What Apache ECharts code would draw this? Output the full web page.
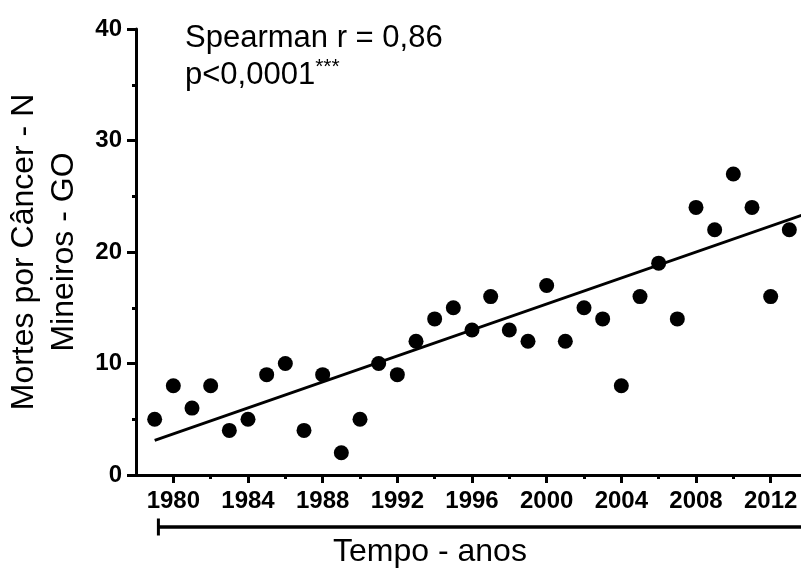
<!DOCTYPE html>
<html>
<head>
<meta charset="utf-8">
<script src="https://cdn.jsdelivr.net/npm/echarts@6/dist/echarts.min.js"></script>
<style>
  html, body { margin: 0; padding: 0; background: #fff; }
  #chart { width: 801px; height: 568px; }
</style>
</head>
<body>
<div id="chart"></div>
<script>
// anos e mortes
const years = [1979, 1980, 1981, 1982, 1983, 1984, 1985, 1986, 1987, 1988,
  1989, 1990, 1991, 1992, 1993, 1994, 1995, 1996, 1997, 1998,
  1999, 2000, 2001, 2002, 2003, 2004, 2005, 2006, 2007, 2008,
  2009, 2010, 2011, 2012, 2013]
const deaths = [5, 8, 6, 8, 4, 5, 9, 10, 4, 9,
  2, 5, 10, 9, 12, 14, 15, 13, 16, 13,
  12, 17, 12, 15, 14, 8, 16, 19, 14, 24,
  22, 27, 24, 16, 22]
const fitLine = [[1979, 3.1], [2014, 23.5]]
const periodBar = [[1979.2, 0], [2014, 0]]
const majorYears = [1980, 1984, 1988, 1992, 1996, 2000, 2004, 2008, 2012]
const minorYears = [1982, 1986, 1990, 1994, 1998, 2002, 2006, 2010]

const font = 'Liberation Sans, Arial, Helvetica, sans-serif'

const chart = echarts.init(document.getElementById('chart'), null, { renderer: 'canvas' })

chart.setOption({
  animation: false,
  backgroundColor: '#fff',
  title: [
    {
      text: 'Spearman r = 0,86\np<0,0001{sup|***}',
      left: 185,
      top: 20,
      padding: 0,
      textStyle: {
        fontFamily: font,
        fontSize: 31,
        fontWeight: 'normal',
        lineHeight: 37,
        color: '#000',
        rich: {
          sup: { fontFamily: font, fontSize: 21, verticalAlign: 'top', padding: [0, 0, 12, 0], color: '#000' }
        }
      }
    },
    {
      text: 'Tempo - anos',
      left: 333,
      top: 536,
      padding: 0,
      textStyle: { fontFamily: font, fontSize: 32, fontWeight: 'normal', color: '#000' }
    }
  ],
  grid: [
    { left: 136, right: -7, top: 29, bottom: 93, outerBoundsMode: 'none' },
    { left: 136, right: -7, top: 517, height: 20, outerBoundsMode: 'none' }
  ],
  xAxis: [
    {
      type: 'value',
      gridIndex: 0,
      min: 1978,
      max: 2014,
      interval: 2,
      splitLine: { show: false },
      axisLine: { onZero: false, lineStyle: { color: '#000', width: 3 } },
      axisTick: { customValues: majorYears, length: 8, lineStyle: { color: '#000', width: 3 } },
      axisLabel: {
        customValues: majorYears,
        formatter: v => String(v),
        margin: 14,
        fontFamily: font,
        fontSize: 24,
        fontWeight: 'bold',
        color: '#000'
      }
    },
    {
      type: 'value',
      gridIndex: 0,
      position: 'bottom',
      min: 1978,
      max: 2014,
      interval: 2,
      splitLine: { show: false },
      axisLine: { show: false },
      axisTick: { customValues: minorYears, length: 4, lineStyle: { color: '#000', width: 3 } },
      axisLabel: { show: false }
    },
    {
      type: 'value',
      gridIndex: 1,
      min: 1978,
      max: 2014,
      show: false
    }
  ],
  yAxis: [
    {
      type: 'value',
      gridIndex: 0,
      min: 0,
      max: 40,
      interval: 10,
      name: 'Mortes por Câncer - N\nMineiros - GO',
      nameLocation: 'middle',
      nameGap: 49,
      nameTextStyle: { fontFamily: font, fontSize: 32, lineHeight: 40, color: '#000' },
      splitLine: { show: false },
      axisLine: { lineStyle: { color: '#000', width: 3 } },
      axisTick: { length: 9, lineStyle: { color: '#000', width: 3 } },
      minorTick: { show: true, splitNumber: 2, length: 4, lineStyle: { color: '#000', width: 3 } },
      axisLabel: {
        margin: 14,
        fontFamily: font,
        fontSize: 24,
        fontWeight: 'bold',
        color: '#000'
      }
    },
    {
      type: 'value',
      gridIndex: 1,
      min: -1,
      max: 1,
      show: false
    }
  ],
  series: [
    {
      name: 'Tendência',
      type: 'line',
      xAxisIndex: 0,
      yAxisIndex: 0,
      data: fitLine,
      symbol: 'none',
      lineStyle: { color: '#000', width: 2.8 },
      z: 2
    },
    {
      name: 'Mortes',
      type: 'scatter',
      xAxisIndex: 0,
      yAxisIndex: 0,
      data: years.map((y, i) => [y, deaths[i]]),
      symbol: 'circle',
      symbolSize: 15,
      itemStyle: { color: '#000', opacity: 1 },
      z: 3
    },
    {
      name: 'Período',
      type: 'line',
      xAxisIndex: 2,
      yAxisIndex: 1,
      data: periodBar.map((p, i) => ({
        value: p,
        symbol: i === 0 ? 'rect' : 'none',
        symbolSize: [3, 17]
      })),
      itemStyle: { color: '#000', opacity: 1 },
      lineStyle: { color: '#000', width: 3.5 }
    }
  ]
})
</script>
</body>
</html>
